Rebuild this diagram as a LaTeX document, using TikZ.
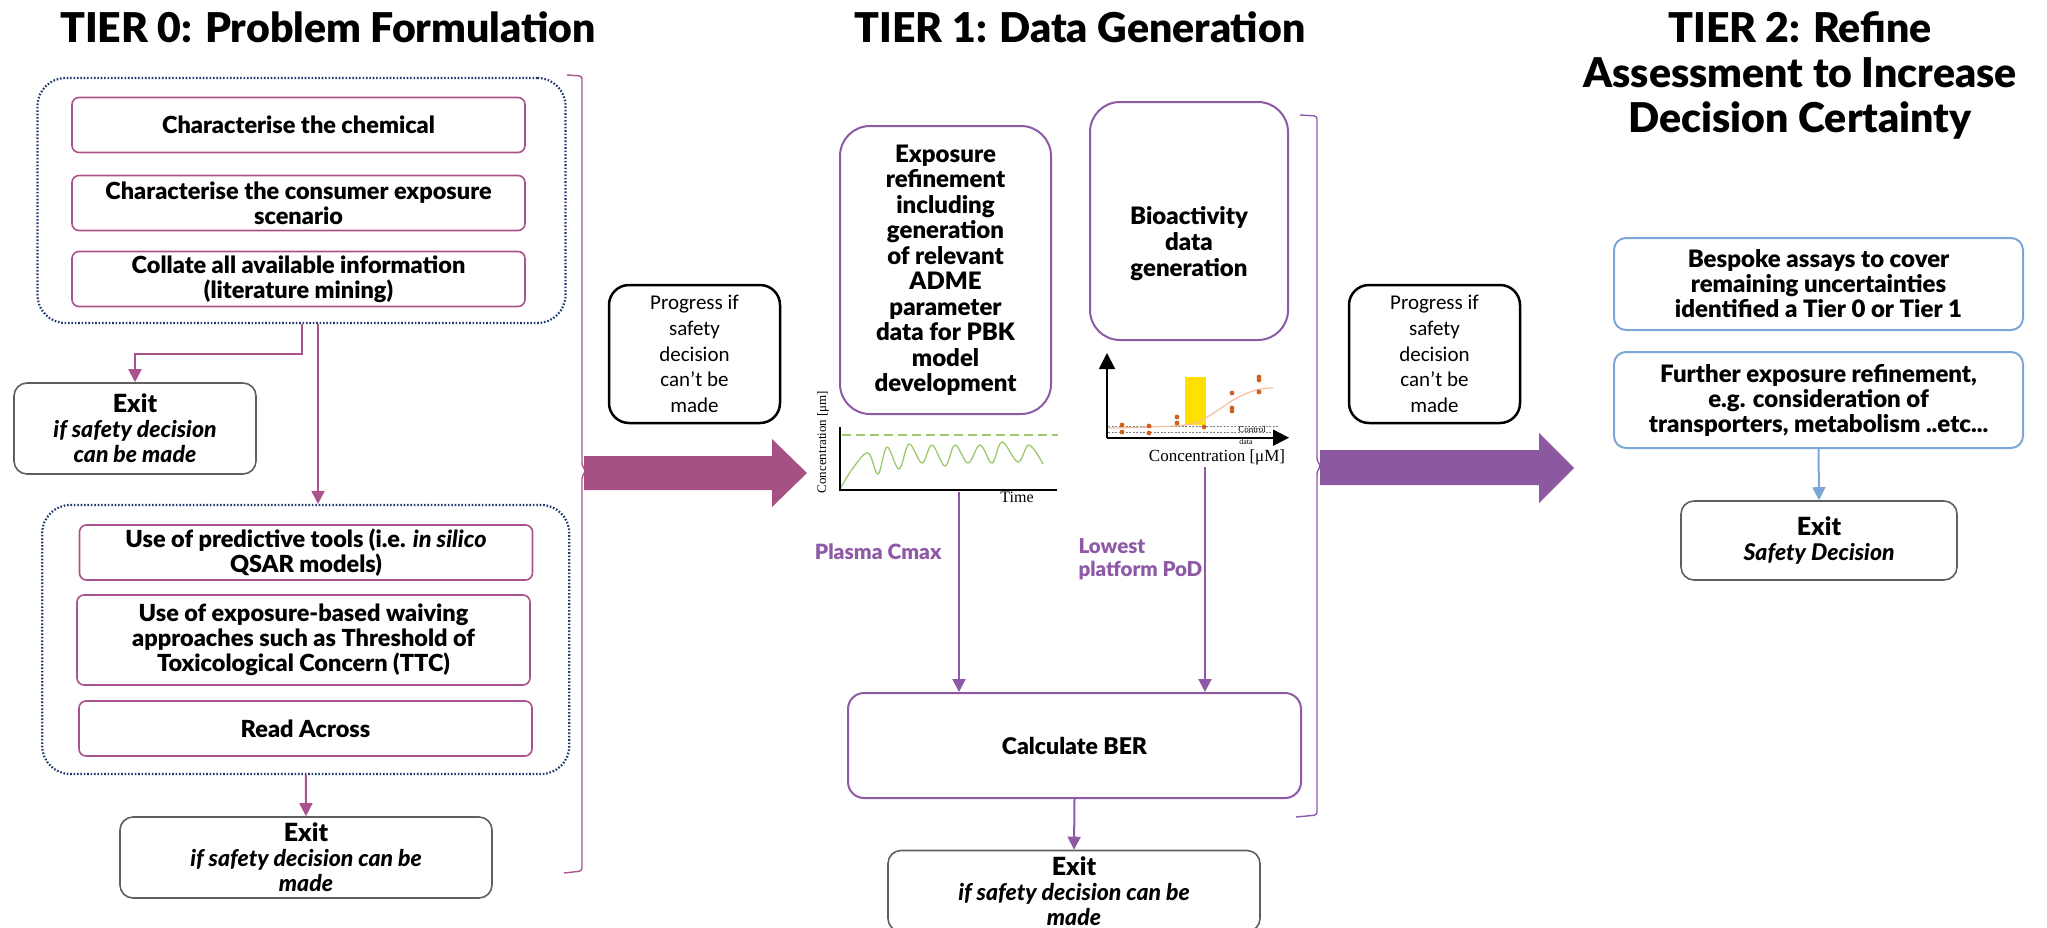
\documentclass[tikz,border=0pt]{standalone}
\usepackage{fontspec}
\setmainfont{Lato}[BoldFont={Lato Black}, BoldItalicFont={Lato Black Italic}]
\newfontfamily\calfont{Carlito}
\newfontfamily\serfont{Liberation Serif}
\usetikzlibrary{arrows.meta}
\newcommand{\fsz}[2]{\fontsize{#1}{#2}\selectfont}

\definecolor{plum}{RGB}{170,82,140}
\definecolor{navy}{RGB}{31,56,110}
\definecolor{grape}{RGB}{142,90,166}
\definecolor{sky}{RGB}{125,166,216}
\definecolor{exitgray}{RGB}{95,95,95}
\definecolor{leaf}{RGB}{156,200,110}
\definecolor{rust}{RGB}{204,98,30}
\definecolor{peach}{RGB}{244,190,160}
\definecolor{sun}{RGB}{255,224,0}
\definecolor{plumfill}{RGB}{166,80,132}
\definecolor{grapefill}{RGB}{140,88,160}

\tikzset{
  tzbox/.style={draw=plum, line width=1.6pt, rounded corners=7pt, align=center, inner sep=0pt,
    minimum width=453pt, font=\fsz{23.5}{25}\bfseries},
  grpbox/.style={draw=navy, line width=2.2pt, dash pattern=on 1.6pt off 1.8pt, rounded corners=28pt, inner sep=0pt},
  exitbox/.style={draw=exitgray, line width=1.6pt, rounded corners=13pt, align=center, inner sep=0pt,
    font=\fsz{23}{25}\bfseries},
  progbox/.style={draw=black, line width=2.5pt, rounded corners=20pt, align=center, inner sep=0pt,
    minimum width=171pt, minimum height=138pt, font=\calfont\fsz{21}{25.7}},
  t1box/.style={draw=grape, line width=2pt, rounded corners=30pt, align=center, inner sep=0pt},
  t2box/.style={draw=sky, line width=2pt, rounded corners=12pt, align=center, inner sep=0pt,
    minimum width=409pt, font=\fsz{24}{25}\bfseries},
  plumarrow/.style={draw=plum, line width=2pt, -{Triangle[length=13pt,width=13pt]}},
  grapearrow/.style={draw=grape, line width=2pt, -{Triangle[length=13pt,width=13pt]}},
  skyarrow/.style={draw=sky, line width=2pt, -{Triangle[length=13pt,width=13pt]}},
  title/.style={align=center, font=\fsz{41}{45}\bfseries},
}

\begin{document}
\begin{tikzpicture}[x=1pt,y=-1pt]
  %%%%% START %%%%%
  \useasboundingbox (0,0) rectangle (2047,927);

  % titles
  \node[title] (t0) at (328,27) {TIER 0: Problem Formulation};
  \node[title] (t1) at (1080,27) {TIER 1: Data Generation};
  \node[title] (t2) at (1800,75) {TIER 2: Refine\\Assessment to Increase\\Decision Certainty};

  % tier 0
  \node[grpbox, minimum width=528pt, minimum height=245pt] (grp0a) at (301.5,200.5) {};
  \node[tzbox, minimum height=55pt] (chem) at (298.5,125) {Characterise the chemical};
  \node[tzbox, minimum height=55pt] (scen) at (298.5,203) {Characterise the consumer exposure\\scenario};
  \node[tzbox, minimum height=55pt] (coll) at (298.5,279) {Collate all available information\\(literature mining)};

  \node[exitbox, minimum width=242pt, minimum height=91pt] (exit0a) at (135,428.5)
    {{\fsz{25}{28}Exit}\\\textit{if safety decision}\\\textit{can be made}};

  \node[grpbox, minimum width=527pt, minimum height=269pt] (grp0b) at (305.75,639.5) {};
  \node[tzbox, minimum height=55pt] (qsar) at (306,552.5) {Use of predictive tools (i.e. \textit{in silico}\\QSAR models)};
  \node[tzbox, minimum height=90pt] (ttc) at (303.5,640) {Use of exposure-based waiving\\approaches such as Threshold of\\Toxicological Concern (TTC)};
  \node[tzbox, minimum height=55pt] (rax) at (305.5,728.5) {Read Across};

  \node[exitbox, minimum width=372pt, minimum height=81pt] (exit0b) at (306,857.5)
    {{\fsz{25}{28}Exit}\\\textit{if safety decision can be}\\\textit{made}};

  \coordinate (split0) at (318,323);
  \draw[plumarrow] (grp0a.south) -- ++(0,30) -| (exit0a.north);
  \draw[plumarrow] (grp0a.south -| split0) -- (grp0b.north -| split0);
  \draw[plumarrow] (grp0b.south) -- (exit0b.north);

  % bracket and progress arrow 0 -> 1
  \draw[plum, line width=1.4pt, rounded corners=3pt] (567,75) -- (582,76) -- (582,466) -- (586,471) -- (582,476) -- (582,871) -- (564,873);
  \node[progbox] (prog0) at (694.5,354) {Progress if\\safety\\decision\\can’t be\\made};
  \fill[plumfill] (584,456) -- (772,456) -- (772,439) -- (807,473) -- (772,507) -- (772,490) -- (584,490) -- cycle;

  % tier 1
  \node[t1box, minimum width=211pt, minimum height=288pt, font=\fsz{24}{25.5}\bfseries] (expo) at (945.5,270)
    {Exposure\\refinement\\including\\generation\\of relevant\\ADME\\parameter\\data for PBK\\model\\development};
  \node[t1box, minimum width=198pt, minimum height=238pt] (bio) at (1189,221) {};
  \node[align=center, font=\fsz{24}{26}\bfseries] (biotxt) at (1189,244) {Bioactivity\\data\\generation};

  % kinetics plot
  \draw[leaf, line width=1.3pt, dash pattern=on 9pt off 5pt] (842,435) -- (1058,435);
  \draw[leaf, line width=1.3pt] plot[smooth, tension=0.6] coordinates {(840,489) (853,468) (868,453) (878,474) (887,447)
    (899,469) (909,444) (922,463) (932,445) (945,466) (955,445) (968,463) (980,445) (992,463) (1002,442) (1018,462)
    (1029,445) (1043,464)};
  \draw[black, line width=1.3pt] (840,427) -- (840,490) -- (1057,490);
  \node[rotate=90, font=\serfont\fsz{13}{14}] (conc1) at (823,442) {Concentration [μm]};
  \node[font=\serfont\fsz{16}{18}] (time) at (1017,497) {Time};

  % bioactivity plot
  \fill[sun] (1185,377) rectangle (1206,425);
  \draw[gray, line width=0.8pt, dash pattern=on 2pt off 1.5pt] (1108,426) -- (1278,426);
  \draw[gray, line width=0.8pt, dash pattern=on 2pt off 1.5pt] (1108,432) -- (1278,432);
  \draw[peach, line width=1.2pt] plot[smooth, tension=0.6] coordinates {(1108,428) (1150,427) (1192,424) (1212,414) (1235,399) (1256,390) (1273,388)};
  \foreach \px/\py in {1122/425, 1122/432, 1149/426, 1149/433, 1177/417, 1177/423, 1204/427, 1232/393,
    1232/408, 1232/411, 1259/377, 1259/380, 1259/392}
    \fill[rust] (\px,\py) circle (2.4pt);
  \draw[line width=2pt, -{Triangle[length=16pt,width=16pt]}] (1107,437.7) -- (1107,353);
  \draw[line width=2pt, -{Triangle[length=16pt,width=16pt]}] (1107,437.7) -- (1289,437.7);
  \node[font=\serfont\fsz{9}{10}] (ctl) at (1252,429) {Control};
  \node[font=\serfont\fsz{8}{9}] (ctldata) at (1246,442) {data};
  \node[font=\serfont\fsz{17}{19}] (conc2) at (1217,457) {Concentration [μM]};

  % BER
  \node[t1box, rounded corners=16pt, minimum width=453pt, minimum height=105pt, font=\fsz{23}{25}\bfseries] (ber) at (1074.5,745.5) {Calculate BER};
  \coordinate (cmaxsrc) at (959,492);
  \coordinate (podsrc) at (1205,467);
  \draw[grapearrow] (cmaxsrc) -- (cmaxsrc |- ber.north);
  \draw[grapearrow] (podsrc) -- (podsrc |- ber.north);
  \node[anchor=east, text=grape, font=\fsz{21}{23}\bfseries] (cmax) at (945,552) {Plasma Cmax};
  \node[anchor=west, align=left, text=grape, font=\fsz{20.5}{23}\bfseries] (pod) at (1075,559) {Lowest\\platform PoD};

  \node[exitbox, minimum width=372pt, minimum height=81pt] (exit1) at (1074,891)
    {{\fsz{25}{28}Exit}\\\textit{if safety decision can be}\\\textit{made}};
  \draw[grapearrow] (ber.south) -- (exit1.north);

  % bracket and progress arrow 1 -> 2
  \draw[grape, line width=1.4pt, rounded corners=3pt] (1300,115) -- (1317,116) -- (1317,461) -- (1321,466) -- (1317,471) -- (1317,815) -- (1296,817);
  \node[progbox] (prog1) at (1434.5,354) {Progress if\\safety\\decision\\can’t be\\made};
  \fill[grapefill] (1320,450) -- (1539,450) -- (1539,433) -- (1574,468) -- (1539,503) -- (1539,485) -- (1320,485) -- cycle;

  % tier 2
  \node[t2box, minimum height=92pt] (bespoke) at (1818.5,284) {Bespoke assays to cover\\remaining uncertainties\\identified a Tier 0 or Tier 1};
  \node[t2box, minimum height=96pt] (further) at (1818.5,400) {Further exposure refinement,\\e.g. consideration of\\transporters, metabolism ..etc...};
  \node[exitbox, minimum width=276pt, minimum height=79pt] (exit2) at (1819,540.5)
    {{\fsz{25}{28}Exit}\\\textit{Safety Decision}};
  \draw[skyarrow] (further.south) -- (exit2.north);

  %%%%% END %%%%%
\end{tikzpicture}
\end{document}
